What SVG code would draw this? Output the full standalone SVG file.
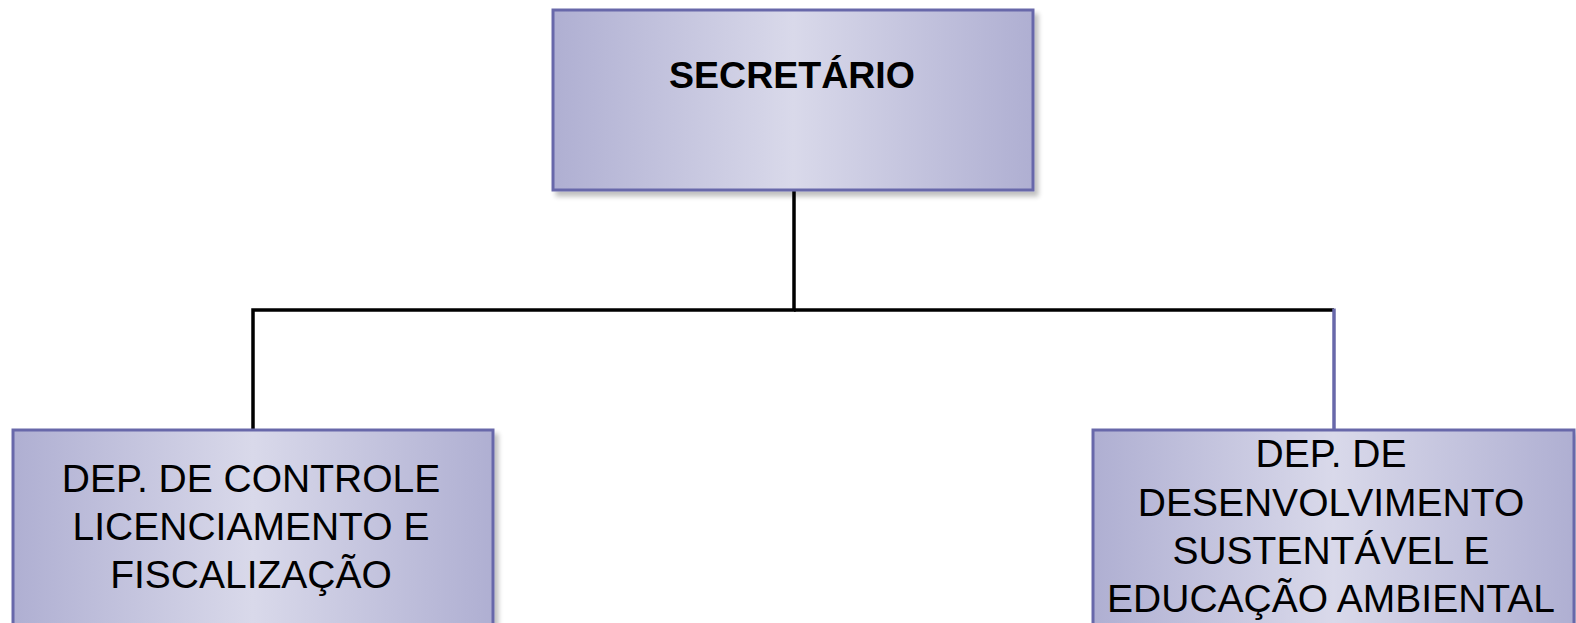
<svg xmlns="http://www.w3.org/2000/svg" width="1576" height="623" viewBox="0 0 1576 623">
<defs>
<linearGradient id="g" x1="0" y1="0" x2="1" y2="0">
<stop offset="0" stop-color="#afafd2"/>
<stop offset="0.5" stop-color="#d9d9ea"/>
<stop offset="1" stop-color="#afafd2"/>
</linearGradient>
<filter id="sh" x="-5%" y="-5%" width="115%" height="120%">
<feGaussianBlur in="SourceAlpha" stdDeviation="2.5"/>
<feOffset dx="4" dy="5" result="b"/>
<feComponentTransfer><feFuncA type="linear" slope="0.25"/></feComponentTransfer>
<feMerge><feMergeNode/><feMergeNode in="SourceGraphic"/></feMerge>
</filter>
</defs>
<style>
.box{fill:url(#g);stroke:#6868aa;stroke-width:3;filter:url(#sh)}
.t{font-family:"Liberation Sans",Arial,sans-serif;fill:#000;text-anchor:middle}
.h{font-weight:bold;font-size:37.5px}
.n{font-size:39px}
</style>
<rect width="1576" height="623" fill="#fff"/>
<g id="connectors" fill="none" stroke-width="3.5">
<polyline points="794,190 794,310 253,310 253,430" stroke="#000"/>
<line x1="794" y1="310" x2="1334" y2="310" stroke="#000"/>
<line x1="1334" y1="308.5" x2="1334" y2="430" stroke="#6868aa"/>
</g>
<g id="secretario">
<rect class="box" x="553" y="10" width="480" height="180"/>
<text class="t h" x="792" y="88">SECRETÁRIO</text>
</g>
<g id="dep-controle">
<rect class="box" x="13" y="430" width="480" height="200"/>
<text class="t n" x="251" y="492">DEP. DE CONTROLE</text>
<text class="t n" x="251" y="540">LICENCIAMENTO E</text>
<text class="t n" x="251" y="588">FISCALIZAÇÃO</text>
</g>
<g id="dep-desenvolvimento">
<rect class="box" x="1093" y="430" width="481" height="200"/>
<text class="t n" x="1331" y="467">DEP. DE</text>
<text class="t n" x="1331" y="516">DESENVOLVIMENTO</text>
<text class="t n" x="1331" y="564">SUSTENTÁVEL E</text>
<text class="t n" x="1331" y="612">EDUCAÇÃO AMBIENTAL</text>
</g>
</svg>
